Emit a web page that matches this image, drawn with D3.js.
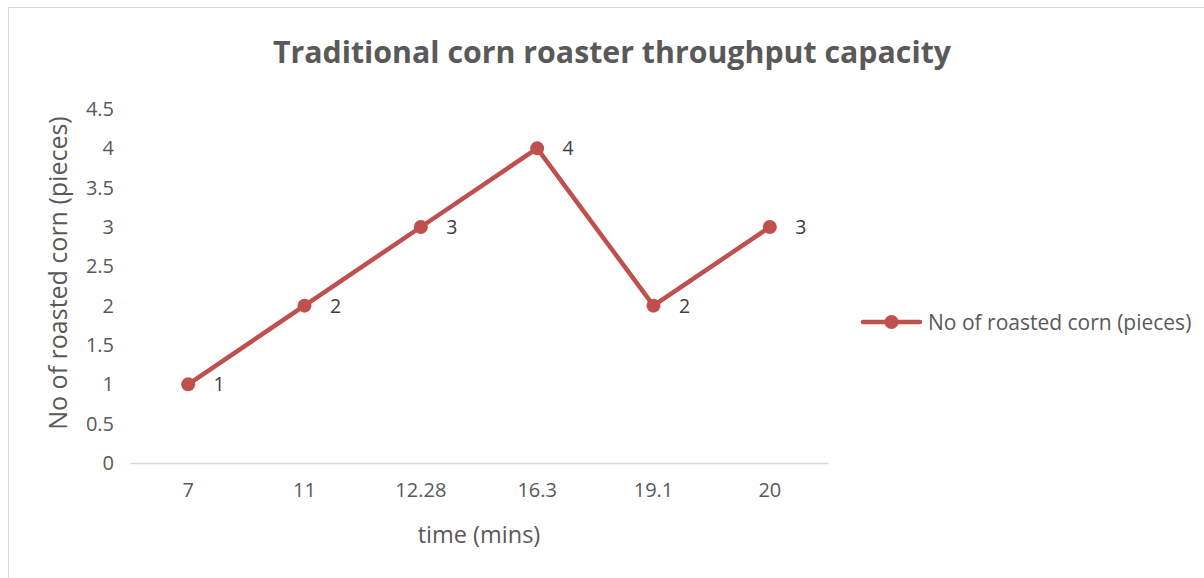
<!DOCTYPE html>
<html>
<head>
<meta charset="utf-8">
<script src="https://cdn.jsdelivr.net/npm/d3@7"></script>
<style>
  html, body { margin: 0; padding: 0; background: #fff; }
  svg { display: block; font-family: "Open Sans", "Noto Sans", sans-serif; }
</style>
</head>
<body>
<svg id="chart" width="1204" height="578"></svg>
<script>
// Time points (minutes) and roasted corn count at each
const times = ["7", "11", "12.28", "16.3", "19.1", "20"];
const pieces = [1, 2, 3, 4, 2, 3];
const yTicks = [0, 0.5, 1, 1.5, 2, 2.5, 3, 3.5, 4, 4.5];

const titleText = "Traditional corn roaster throughput capacity";
const seriesName = "No of roasted corn (pieces)";
const xTitle = "time (mins)";
const yTitle = "No of roasted corn (pieces)";

const lineColor = "#C0504D";
const textColor = "#595959";
const gridColor = "#d9d9d9";

const svg = d3.select("#chart");

// outer frame
svg.append("rect")
  .attr("x", 8.5).attr("y", 7.5)
  .attr("width", 1220).attr("height", 600)
  .attr("fill", "#fff").attr("stroke", gridColor).attr("stroke-width", 1);

const plot = { left: 130, right: 828, top: 109, bottom: 463 };

const x = d3.scaleBand().domain(times).range([plot.left, plot.right]);
const y = d3.scaleLinear().domain([0, 4.5]).range([plot.bottom, plot.top]);

// title
svg.append("text")
  .attr("x", 612).attr("y", 63)
  .attr("text-anchor", "middle")
  .attr("font-size", 30.3).attr("font-weight", "bold")
  .attr("fill", textColor)
  .text(titleText);

// y axis labels
const yAxis = d3.axisLeft(y).tickValues(yTicks).tickSize(0).tickPadding(16)
  .tickFormat(d3.format("~g"));
const gy = svg.append("g").attr("transform", `translate(${plot.left},0)`).call(yAxis);
gy.select(".domain").remove();
gy.selectAll("text").attr("font-size", 20).attr("fill", textColor)
  .attr("font-family", "'Open Sans', sans-serif");

// x axis
const xAxis = d3.axisBottom(x).tickSize(0).tickPadding(20);
const gx = svg.append("g").attr("transform", `translate(0,${plot.bottom})`).call(xAxis);
gx.select(".domain").attr("stroke", gridColor).attr("stroke-width", 1.5);
gx.selectAll("text").attr("font-size", 20).attr("fill", textColor)
  .attr("font-family", "'Open Sans', sans-serif");

// axis titles
svg.append("text")
  .attr("x", 479).attr("y", 543)
  .attr("text-anchor", "middle")
  .attr("font-size", 23.5).attr("fill", textColor)
  .text(xTitle);

svg.append("text")
  .attr("transform", `translate(67,${(plot.top + plot.bottom) / 2 - 13}) rotate(-90)`)
  .attr("text-anchor", "middle")
  .attr("font-size", 25).attr("fill", textColor)
  .text(yTitle);

// series
const data = times.map((t, i) => ({ t, v: pieces[i] }));
const cx = d => x(d.t) + x.bandwidth() / 2;

svg.append("path")
  .datum(data)
  .attr("fill", "none")
  .attr("stroke", lineColor)
  .attr("stroke-width", 4.5)
  .attr("stroke-linejoin", "round")
  .attr("d", d3.line().x(cx).y(d => y(d.v)));

svg.selectAll("circle.pt").data(data).enter().append("circle")
  .attr("class", "pt")
  .attr("cx", cx).attr("cy", d => y(d.v))
  .attr("r", 7).attr("fill", lineColor);

// data labels
svg.selectAll("text.lbl").data(data).enter().append("text")
  .attr("class", "lbl")
  .attr("x", d => cx(d) + 31).attr("y", d => y(d.v) + 7)
  .attr("text-anchor", "middle")
  .attr("font-size", 19.5).attr("fill", "#404040")
  .text(d => d3.format("~g")(d.v));

// legend
const lg = svg.append("g").attr("transform", "translate(863,322)");
lg.append("line").attr("x1", 0).attr("x2", 57).attr("y1", 0).attr("y2", 0)
  .attr("stroke", lineColor).attr("stroke-width", 4.5).attr("stroke-linecap", "round");
lg.append("circle").attr("cx", 28.5).attr("cy", 0).attr("r", 7).attr("fill", lineColor);
lg.append("text").attr("x", 65).attr("y", 8)
  .attr("font-size", 21).attr("fill", textColor)
  .text(seriesName);
</script>
</body>
</html>
